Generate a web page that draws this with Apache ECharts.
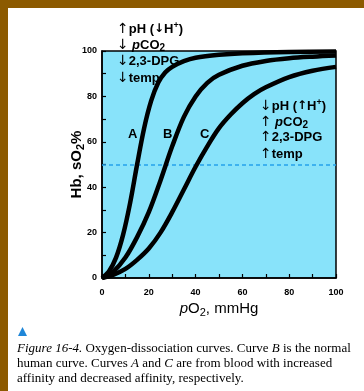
<!DOCTYPE html>
<html>
<head>
<meta charset="utf-8">
<script src="https://cdn.jsdelivr.net/npm/echarts@6/dist/echarts.min.js"></script>
<style>
  html, body { margin: 0; padding: 0; background: #fff; }
  #odc { width: 364px; height: 391px; }
</style>
</head>
<body>
<div id="odc"></div>
<script>
// curve values (pO2 mmHg -> Hb saturation %)
var pO2A = [0, 3, 6, 9, 12, 15, 18, 21, 24, 27, 30, 35, 40, 50, 60, 80, 100];
var satA = [0, 3, 9, 19, 33, 50, 66, 78, 86, 90.5, 93, 95.5, 97, 98.3, 99, 99.6, 99.8];

var pO2B = [0, 5, 10, 15, 20, 25, 30, 35, 40, 45, 50, 60, 70, 80, 90, 100];
var satB = [0, 3, 9, 18, 29, 43, 58, 71, 80, 86, 89.5, 93.5, 95.6, 96.8, 97.5, 98];

var pO2C = [0, 5, 10, 15, 20, 25, 30, 35, 40, 45, 50, 55, 60, 65, 70, 80, 90, 100];
var satC = [0, 1.5, 4, 8, 13, 20, 29, 39, 49, 58, 66, 72, 77, 81, 84, 88.5, 91.3, 93];

var halfSat = 50;
var xTickLabels = [0, 20, 40, 60, 80, 100];
var yTickLabels = [0, 20, 40, 60, 80, 100];

var arrowBlue = '#25a3ec';

function pairs(xs, ys) {
  return xs.map(function (x, i) { return [x, ys[i]]; });
}

function curve(name, xs, ys) {
  return {
    name: name,
    type: 'line',
    data: pairs(xs, ys),
    smooth: 0.35,
    symbol: 'none',
    lineStyle: { color: '#000', width: 4.5 },
    z: 3
  };
}

var richNote = {
  a: { color: arrowBlue, fontSize: 14, fontFamily: 'DejaVu Sans', lineHeight: 16 },
  ar: { color: '#000', fontSize: 12, fontFamily: 'DejaVu Sans', fontWeight: 'bold', lineHeight: 16 },
  t: { color: '#000', fontSize: 13, fontFamily: 'Liberation Sans', fontWeight: 'bold', lineHeight: 16 },
  i: { color: '#000', fontSize: 13, fontFamily: 'Liberation Sans', fontWeight: 'bold', fontStyle: 'italic', lineHeight: 16 },
  sub: { color: '#000', fontSize: 10, fontFamily: 'Liberation Sans', fontWeight: 'bold', lineHeight: 11, verticalAlign: 'bottom' },
  sup: { color: '#000', fontSize: 9, fontFamily: 'Liberation Sans', fontWeight: 'bold', lineHeight: 9, verticalAlign: 'top' }
};

function note(x, y, text) {
  return { type: 'text', left: x, top: y, z: 10, style: { text: text, rich: richNote } };
}

var captionRich = {
  f: { fontFamily: 'Liberation Serif', fontSize: 13, fontStyle: 'italic', color: '#1f86d8' },
  n: { fontFamily: 'Liberation Serif', fontSize: 13, color: '#1a1a1a' },
  it: { fontFamily: 'Liberation Serif', fontSize: 13, fontStyle: 'italic', color: '#1a1a1a' }
};

var myChart = echarts.init(document.getElementById('odc'));

var option = {
  backgroundColor: '#fff',
  animation: false,
  grid: {
    left: 102, right: 28, top: 51, bottom: 113,
    show: true,
    backgroundColor: '#88e3fa',
    borderColor: '#000',
    borderWidth: 1.5
  },
  xAxis: {
    type: 'value',
    min: 0, max: 100, interval: 10,
    name: '{i|p}{t|O}{sub|2}{t|, mmHg}',
    nameLocation: 'middle',
    nameGap: 22,
    nameMoveOverlap: false,
    nameTextStyle: {
      rich: {
        i: { fontFamily: 'Liberation Sans', fontSize: 15, fontStyle: 'italic', color: '#000', lineHeight: 18 },
        t: { fontFamily: 'Liberation Sans', fontSize: 15, color: '#000', lineHeight: 18 },
        sub: { fontFamily: 'Liberation Sans', fontSize: 11, color: '#000', lineHeight: 12, verticalAlign: 'bottom' }
      }
    },
    axisLine: { lineStyle: { color: '#000', width: 1.5 } },
    axisTick: { inside: true, length: 4, lineStyle: { color: '#000', width: 1.2 } },
    axisLabel: {
      margin: 10,
      fontSize: 9, fontWeight: 'bold', fontFamily: 'Liberation Sans', color: '#000',
      formatter: function (v) { return xTickLabels.indexOf(v) >= 0 ? String(v) : ''; }
    },
    splitLine: { show: false }
  },
  yAxis: {
    type: 'value',
    min: 0, max: 100, interval: 10,
    name: '{t|Hb, sO}{sub|2}{t|%}',
    nameLocation: 'middle',
    nameGap: 16,
    nameMoveOverlap: false,
    nameTextStyle: {
      rich: {
        t: { fontFamily: 'Liberation Sans', fontSize: 15, fontWeight: 'bold', color: '#000', lineHeight: 18 },
        sub: { fontFamily: 'Liberation Sans', fontSize: 11, fontWeight: 'bold', color: '#000', lineHeight: 12, verticalAlign: 'bottom' }
      }
    },
    axisLine: { lineStyle: { color: '#000', width: 1.5 } },
    axisTick: { inside: true, length: 4, lineStyle: { color: '#000', width: 1.2 } },
    axisLabel: {
      margin: 5,
      fontSize: 9, fontWeight: 'bold', fontFamily: 'Liberation Sans', color: '#000',
      formatter: function (v) { return yTickLabels.indexOf(v) >= 0 ? String(v) : ''; }
    },
    splitLine: { show: false }
  },
  series: [
    curve('A', pO2A, satA),
    Object.assign(curve('B', pO2B, satB), {
      markLine: {
        silent: true,
        symbol: 'none',
        label: { show: false },
        lineStyle: { color: arrowBlue, type: [4, 3], width: 1.5 },
        data: [{ yAxis: halfSat }],
        z: 2
      }
    }),
    curve('C', pO2C, satC)
  ],
  graphic: [
    // brown frame
    { type: 'rect', left: 0, top: 0, shape: { width: 364, height: 8 }, style: { fill: '#8c5a00' }, z: 20 },
    { type: 'rect', left: 0, top: 0, shape: { width: 8, height: 391 }, style: { fill: '#8c5a00' }, z: 20 },

    // curve letters
    { type: 'text', left: 128, top: 128, z: 10, style: { text: 'A', font: 'bold 13px Liberation Sans', fill: '#000' } },
    { type: 'text', left: 163, top: 128, z: 10, style: { text: 'B', font: 'bold 13px Liberation Sans', fill: '#000' } },
    { type: 'text', left: 200, top: 128, z: 10, style: { text: 'C', font: 'bold 13px Liberation Sans', fill: '#000' } },

    // left-shift factors
    note(117, 21, '{a|↑}{t|pH (}{ar|↓}{t|H}{sup|+}{t|)}'),
    note(117, 38, '{a|↓} {i|p}{t|CO}{sub|2}'),
    note(117, 54, '{a|↓}{t|2,3-DPG}'),
    note(117, 71, '{a|↓}{t|temp}'),

    // right-shift factors
    note(260, 98, '{a|↓}{t|pH (}{ar|↑}{t|H}{sup|+}{t|)}'),
    note(260, 115, '{a|↑} {i|p}{t|CO}{sub|2}'),
    note(260, 130, '{a|↑}{t|2,3-DPG}'),
    note(260, 147, '{a|↑}{t|temp}'),

    // caption
    { type: 'polygon', z: 10, shape: { points: [[18, 336], [27, 336], [22.5, 327]] }, style: { fill: '#1f86d8' } },
    {
      type: 'text', left: 17, top: 341, z: 10,
      style: {
        text: '{f|Figure 16-4.}{n| Oxygen-dissociation curves. Curve }{it|B}{n| is the normal}\n' +
              '{n|human curve. Curves }{it|A}{n| and }{it|C}{n| are from blood with increased}\n' +
              '{n|affinity and decreased affinity, respectively.}',
        rich: captionRich,
        lineHeight: 15
      }
    }
  ]
};

myChart.setOption(option);
</script>
</body>
</html>
